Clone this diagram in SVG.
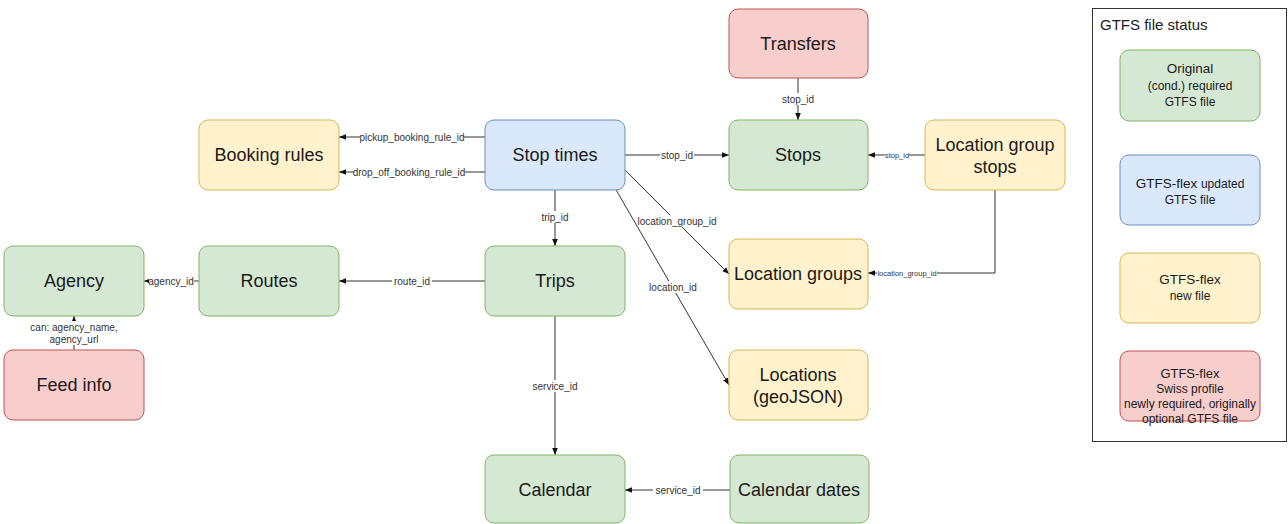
<svg xmlns="http://www.w3.org/2000/svg" width="1288" height="524" viewBox="0 0 1288 524">
<defs>
<marker id="arr" viewBox="0 0 10 10" refX="10" refY="5" markerWidth="7" markerHeight="7" markerUnits="userSpaceOnUse" orient="auto">
<path d="M0,1 L10,5 L0,9 Z" fill="#111"/>
</marker>
<style>
.g{fill:#d5e8d4;stroke:#82b366;stroke-width:1}
.b{fill:#dae8fc;stroke:#6c8ebf;stroke-width:1}
.y{fill:#fff2cc;stroke:#d6b656;stroke-width:1}
.r{fill:#f8cecc;stroke:#b85450;stroke-width:1}
.nt{font-family:"Liberation Sans",Arial,sans-serif;font-size:18px;fill:#1a1a1a;text-anchor:middle}
.lt{font-family:"Liberation Sans",Arial,sans-serif;fill:#333;text-anchor:middle}
.lg{font-family:"Liberation Sans",Arial,sans-serif;fill:#1a1a1a;text-anchor:middle}
.c{fill:none;stroke:#333;stroke-width:1;marker-end:url(#arr)}
.lb{fill:#fff}
.l10{font-size:10px}
.l7{font-size:7.5px}
</style>
</defs>
<rect width="1288" height="524" fill="#fff"/>

<g id="connectors">
<path class="c" d="M485,137 H339"/>
<path class="c" d="M485,172 H339"/>
<path class="c" d="M625,155 H729"/>
<path class="c" d="M925,155 H868"/>
<path class="c" d="M798,78 V120"/>
<path class="c" d="M555,190 V246"/>
<path class="c" d="M625,170 L729,274"/>
<path class="c" d="M615,188 L729,385"/>
<path class="c" d="M485,281 H339"/>
<path class="c" d="M199,281 H144"/>
<path class="c" d="M74,350 V316"/>
<path class="c" d="M555,316 V455"/>
<path class="c" d="M730,490 H625"/>
<path class="c" d="M995,190 V273 H868"/>

<rect class="lb" x="360" y="131" width="104" height="12"/>
<text class="lt l10" x="412" y="141">pickup_booking_rule_id</text>
<rect class="lb" x="354" y="166" width="111" height="12"/>
<text class="lt l10" x="409" y="176">drop_off_booking_rule_id</text>
<rect class="lb" x="660" y="149" width="34" height="12"/>
<text class="lt l10" x="677" y="159">stop_id</text>
<rect class="lb" x="885" y="151" width="24" height="9"/>
<text class="lt l7" x="897" y="158">stop_id</text>
<rect class="lb" x="781" y="93" width="34" height="12"/>
<text class="lt l10" x="798" y="103">stop_id</text>
<rect class="lb" x="538" y="211" width="34" height="12"/>
<text class="lt l10" x="555" y="221">trip_id</text>
<rect class="lb" x="638" y="215" width="79" height="12"/>
<text class="lt l10" x="677" y="225">location_group_id</text>
<rect class="lb" x="649" y="281" width="49" height="12"/>
<text class="lt l10" x="673" y="291">location_id</text>
<rect class="lb" x="392" y="275" width="40" height="12"/>
<text class="lt l10" x="412" y="285">route_id</text>
<rect class="lb" x="149" y="275" width="45" height="12"/>
<text class="lt l10" x="171" y="285">agency_id</text>
<rect class="lb" x="28" y="321" width="92" height="24"/>
<text class="lt l10" x="74" y="331">can: agency_name,</text>
<text class="lt l10" x="74" y="343">agency_url</text>
<rect class="lb" x="530" y="380" width="50" height="12"/>
<text class="lt l10" x="555" y="390">service_id</text>
<rect class="lb" x="653" y="484" width="50" height="12"/>
<text class="lt l10" x="678" y="494">service_id</text>
<rect class="lb" x="877" y="269" width="60" height="9"/>
<text class="lt l7" x="907" y="276">location_group_id</text>
</g>

<g id="transfers"><rect class="r" x="729" y="9" width="139" height="69" rx="9"/><text class="nt" x="798" y="50">Transfers</text></g>
<g id="booking-rules"><rect class="y" x="199" y="120" width="140" height="70" rx="9"/><text class="nt" x="269" y="161">Booking rules</text></g>
<g id="stop-times"><rect class="b" x="485" y="120" width="140" height="70" rx="9"/><text class="nt" x="555" y="161">Stop times</text></g>
<g id="stops"><rect class="g" x="729" y="120" width="139" height="70" rx="9"/><text class="nt" x="798" y="161">Stops</text></g>
<g id="location-group-stops"><rect class="y" x="925" y="120" width="140" height="70" rx="9"/><text class="nt" x="995" y="151">Location group</text><text class="nt" x="995" y="173">stops</text></g>
<g id="agency"><rect class="g" x="4" y="246" width="140" height="70" rx="9"/><text class="nt" x="74" y="287">Agency</text></g>
<g id="routes"><rect class="g" x="199" y="246" width="140" height="70" rx="9"/><text class="nt" x="269" y="287">Routes</text></g>
<g id="trips"><rect class="g" x="485" y="246" width="140" height="70" rx="9"/><text class="nt" x="555" y="287">Trips</text></g>
<g id="location-groups"><rect class="y" x="729" y="239" width="139" height="70" rx="9"/><text class="nt" x="798" y="280">Location groups</text></g>
<g id="feed-info"><rect class="r" x="4" y="350" width="140" height="70" rx="9"/><text class="nt" x="74" y="391">Feed info</text></g>
<g id="locations"><rect class="y" x="729" y="350" width="139" height="70" rx="9"/><text class="nt" x="798" y="381">Locations</text><text class="nt" x="798" y="403">(geoJSON)</text></g>
<g id="calendar"><rect class="g" x="485" y="455" width="140" height="68" rx="9"/><text class="nt" x="555" y="496">Calendar</text></g>
<g id="calendar-dates"><rect class="g" x="730" y="455" width="139" height="68" rx="9"/><text class="nt" x="799" y="496">Calendar dates</text></g>

<g id="legend">
<rect x="1092.5" y="8.5" width="194" height="433" fill="#fff" stroke="#333" stroke-width="1"/>
<text class="lg" x="1100" y="30" style="text-anchor:start;font-size:15px">GTFS file status</text>
<g id="legend-original"><rect class="g" x="1120" y="50" width="140" height="71" rx="9"/>
<text class="lg" x="1190" y="73" style="font-size:13.5px">Original</text>
<text class="lg" x="1190" y="90" style="font-size:12px">(cond.) required</text>
<text class="lg" x="1190" y="106" style="font-size:12px">GTFS file</text></g>
<g id="legend-updated"><rect class="b" x="1120" y="155" width="140" height="70" rx="9"/>
<text class="lg" x="1190" y="188"><tspan style="font-size:13.5px">GTFS-flex </tspan><tspan style="font-size:12px">updated</tspan></text>
<text class="lg" x="1190" y="204" style="font-size:12px">GTFS file</text></g>
<g id="legend-new"><rect class="y" x="1120" y="253" width="140" height="70" rx="9"/>
<text class="lg" x="1190" y="284" style="font-size:13.5px">GTFS-flex</text>
<text class="lg" x="1190" y="300" style="font-size:12px">new file</text></g>
<g id="legend-swiss"><rect class="r" x="1120" y="351" width="140" height="70" rx="9"/>
<text class="lg" x="1190" y="378" style="font-size:13px">GTFS-flex</text>
<text class="lg" x="1190" y="393" style="font-size:12px">Swiss profile</text>
<text class="lg" x="1190" y="408" style="font-size:12px">newly required, originally</text>
<text class="lg" x="1190" y="423" style="font-size:12px">optional GTFS file</text></g>
</g>
</svg>
